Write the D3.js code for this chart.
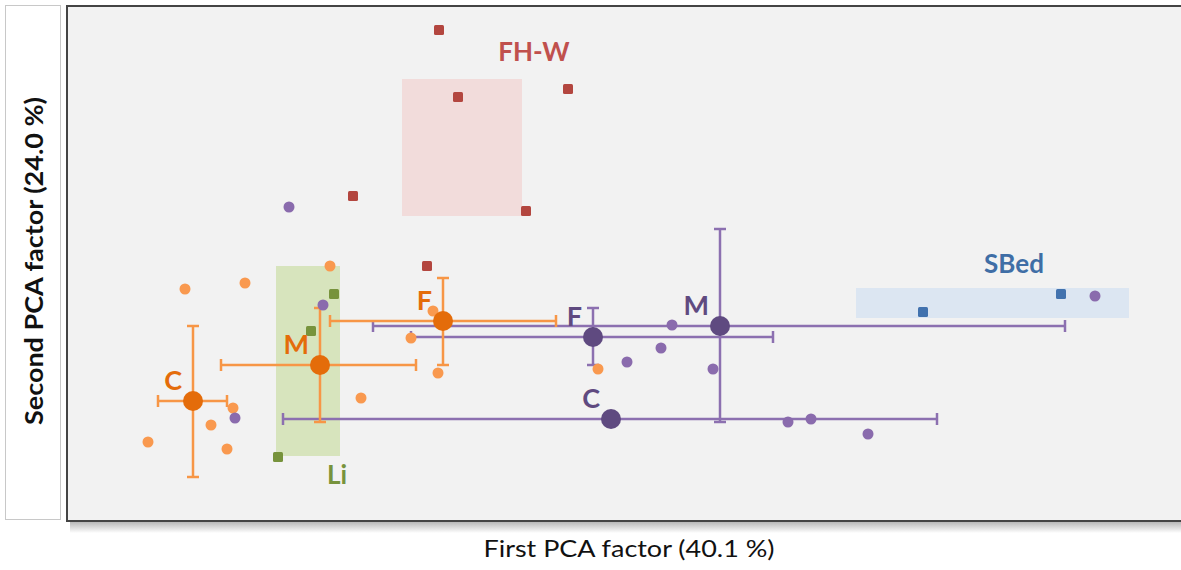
<!DOCTYPE html>
<html>
<head>
<meta charset="utf-8">
<script src="https://cdn.jsdelivr.net/npm/d3@7"></script>
<style>
  body { margin: 0; background: #fff; }
  text { font-family: Lato, "Open Sans", sans-serif; }
</style>
</head>
<body>
<div id="chart"></div>
<script>
var width = 1181
    height = 570

// sample scores, [first factor, second factor]
var orangeSamples = [[-3.81, -0.18], [-3.21, -0.12], [-2.36, 0.05], [-2.05, -1.27], [-3.33, -1.37], [-3.55, -1.54],
  [-4.18, -1.71], [-3.39, -1.78], [-1.33, -0.40], [-1.55, -0.67], [-1.28, -1.02], [0.32, -0.98]]
var purpleSamples = [[-2.77, 0.64], [-2.43, -0.34], [-3.31, -1.47], [1.06, -0.54], [0.95, -0.77], [0.61, -0.91],
  [1.47, -0.98], [2.22, -1.51], [2.45, -1.48], [3.02, -1.63], [5.29, -0.25]]
var fhwSamples = [[-1.27, 2.41], [-1.08, 1.74], [0.02, 1.82], [-0.40, 0.60], [-2.13, 0.75], [-1.39, 0.05]]
var liSamples = [[-2.32, -0.23], [-2.55, -0.60], [-2.88, -1.86]]
var sbedSamples = [[3.57, -0.41], [4.95, -0.23]]

// reference groups: name, x range, y range, label anchor
var regionNames = ["FH-W", "Li", "SBed"]
var regionX = [[-1.64, -0.44], [-2.90, -2.26], [2.90, 5.63]]
var regionY = [[0.55, 1.92], [-1.85, 0.05], [-0.47, -0.17]]
var regionLabelAt = [[-0.32, 2.10], [-2.29, -2.13], [4.48, -0.02]]

// group means with spread
var meanNames = ["C", "M", "F"]
var orangeMean = [[-3.73, -1.30], [-2.46, -0.94], [-1.23, -0.50]]
var orangeErrX = [[-4.08, -3.39], [-3.45, -1.50], [-2.36, -0.10]]
var orangeErrY = [[-2.06, -0.55], [-1.51, -0.37], [-0.94, -0.07]]
var purpleMean = [[0.45, -1.48], [1.54, -0.55], [0.27, -0.66]]
var purpleErrX = [[-2.83, 3.71], [-1.93, 4.99], [-1.55, 2.07]]
var purpleErrY = [null, [-1.51, 0.42], [-0.94, -0.37]]

var xTitle = "First PCA factor (40.1 %)"
var yTitle = "Second PCA factor (24.0 %)"

var regionFill = ["#f2dcdb", "#d7e4bd", "#dce6f2"]
var regionText = ["#c0504d", "#77933c", "#3f6ea6"]
var regionMark = ["#b3463f", "#77933c", "#4272ae"]

var svg = d3.select("#chart")
  .append("svg")
    .attr("width", width)
    .attr("height", height)

var x = d3.scaleLinear().domain([-5.0, 6.15]).range([66, 1181])
var y = d3.scaleLinear().domain([-2.5, 2.66]).range([521, 5])

// shadow under the plot frame
var grad = svg.append("defs").append("linearGradient")
    .attr("id", "shadow").attr("x1", 0).attr("x2", 0).attr("y1", 0).attr("y2", 1)
grad.append("stop").attr("offset", "0%").attr("stop-color", "#b8b8b8")
grad.append("stop").attr("offset", "100%").attr("stop-color", "#ffffff")
svg.append("rect")
    .attr("x", 70).attr("y", 522).attr("width", 1120).attr("height", 11)
    .attr("fill", "url(#shadow)")

// y title box
svg.append("rect")
    .attr("x", 5.5).attr("y", 5.5).attr("width", 55).attr("height", 514)
    .attr("fill", "#fff").attr("stroke", "#c8c8c8")

// plot frame
svg.append("rect")
    .attr("x", 67).attr("y", 6).attr("width", 1200).attr("height", 515)
    .attr("fill", "#f2f2f2").attr("stroke", "#444").attr("stroke-width", 2)

// shaded group boxes
svg.selectAll(".region")
  .data(regionNames)
  .enter()
  .append("rect")
    .attr("x", function(d, i) { return x(regionX[i][0]) })
    .attr("width", function(d, i) { return x(regionX[i][1]) - x(regionX[i][0]) })
    .attr("y", function(d, i) { return y(regionY[i][1]) })
    .attr("height", function(d, i) { return y(regionY[i][0]) - y(regionY[i][1]) })
    .attr("fill", function(d, i) { return regionFill[i] })

svg.selectAll(".regionLabel")
  .data(regionNames)
  .enter()
  .append("text")
    .attr("x", function(d, i) { return x(regionLabelAt[i][0]) })
    .attr("y", function(d, i) { return y(regionLabelAt[i][1]) })
    .attr("text-anchor", "middle")
    .style("font-size", "26px")
    .style("font-weight", "bold")
    .attr("fill", function(d, i) { return regionText[i] })
    .text(function(d) { return d })

// error bars
function errorBars(means, errX, errY, color) {
  var g = svg.append("g")
      .attr("stroke", color)
      .attr("stroke-width", 2.5)
      .attr("fill", "none")
  var cap = 6
  means.forEach(function(m, i) {
    var cx = x(m[0]), cy = y(m[1])
    var ex = errX[i], ey = errY[i]
    if (ex) {
      g.append("line").attr("x1", x(ex[0])).attr("x2", x(ex[1])).attr("y1", cy).attr("y2", cy)
      ex.forEach(function(v) {
        g.append("line").attr("x1", x(v)).attr("x2", x(v)).attr("y1", cy - cap).attr("y2", cy + cap)
      })
    }
    if (ey) {
      g.append("line").attr("x1", cx).attr("x2", cx).attr("y1", y(ey[0])).attr("y2", y(ey[1]))
      ey.forEach(function(v) {
        g.append("line").attr("x1", cx - cap).attr("x2", cx + cap).attr("y1", y(v)).attr("y2", y(v))
      })
    }
  })
}
errorBars(purpleMean, purpleErrX, purpleErrY, "#8c70b0")
errorBars(orangeMean, orangeErrX, orangeErrY, "#f79646")

// samples
function dots(data, color) {
  svg.append("g").selectAll("circle")
    .data(data)
    .enter()
    .append("circle")
      .attr("cx", function(d) { return x(d[0]) })
      .attr("cy", function(d) { return y(d[1]) })
      .attr("r", 5.5)
      .attr("fill", color)
}
function squares(data, color) {
  svg.append("g").selectAll("rect")
    .data(data)
    .enter()
    .append("rect")
      .attr("x", function(d) { return x(d[0]) - 5 })
      .attr("y", function(d) { return y(d[1]) - 5 })
      .attr("width", 10).attr("height", 10).attr("rx", 1.5)
      .attr("fill", color)
}
dots(orangeSamples, "#f9994f")
dots(purpleSamples, "#8a6bad")
squares(fhwSamples, regionMark[0])
squares(liSamples, regionMark[1])
squares(sbedSamples, regionMark[2])

// group means
function means(data, color) {
  var g = svg.append("g")
  g.selectAll("circle")
    .data(data)
    .enter()
    .append("circle")
      .attr("cx", function(d) { return x(d[0]) })
      .attr("cy", function(d) { return y(d[1]) })
      .attr("r", 10)
      .attr("fill", color)
  g.selectAll("text")
    .data(data)
    .enter()
    .append("text")
      .attr("x", function(d) { return x(d[0]) - 11 })
      .attr("y", function(d) { return y(d[1]) - 11 })
      .attr("text-anchor", "end")
      .style("font-size", "27px")
      .style("font-weight", "bold")
      .attr("fill", color)
      .text(function(d, i) { return meanNames[i] })
}
means(orangeMean, "#e46c0a")
means(purpleMean, "#5f4a80")

// axis titles
svg.append("text")
    .attr("x", 629).attr("y", 557)
    .attr("text-anchor", "middle")
    .style("font-size", "24px")
    .attr("textLength", 291)
    .attr("lengthAdjust", "spacingAndGlyphs")
    .attr("fill", "#111")
    .text(xTitle)

svg.append("text")
    .attr("transform", "translate(43,261) rotate(-90)")
    .attr("text-anchor", "middle")
    .style("font-size", "25px")
    .style("font-weight", "bold")
    .attr("textLength", 328)
    .attr("lengthAdjust", "spacingAndGlyphs")
    .attr("fill", "#111")
    .text(yTitle)
</script>
</body>
</html>
